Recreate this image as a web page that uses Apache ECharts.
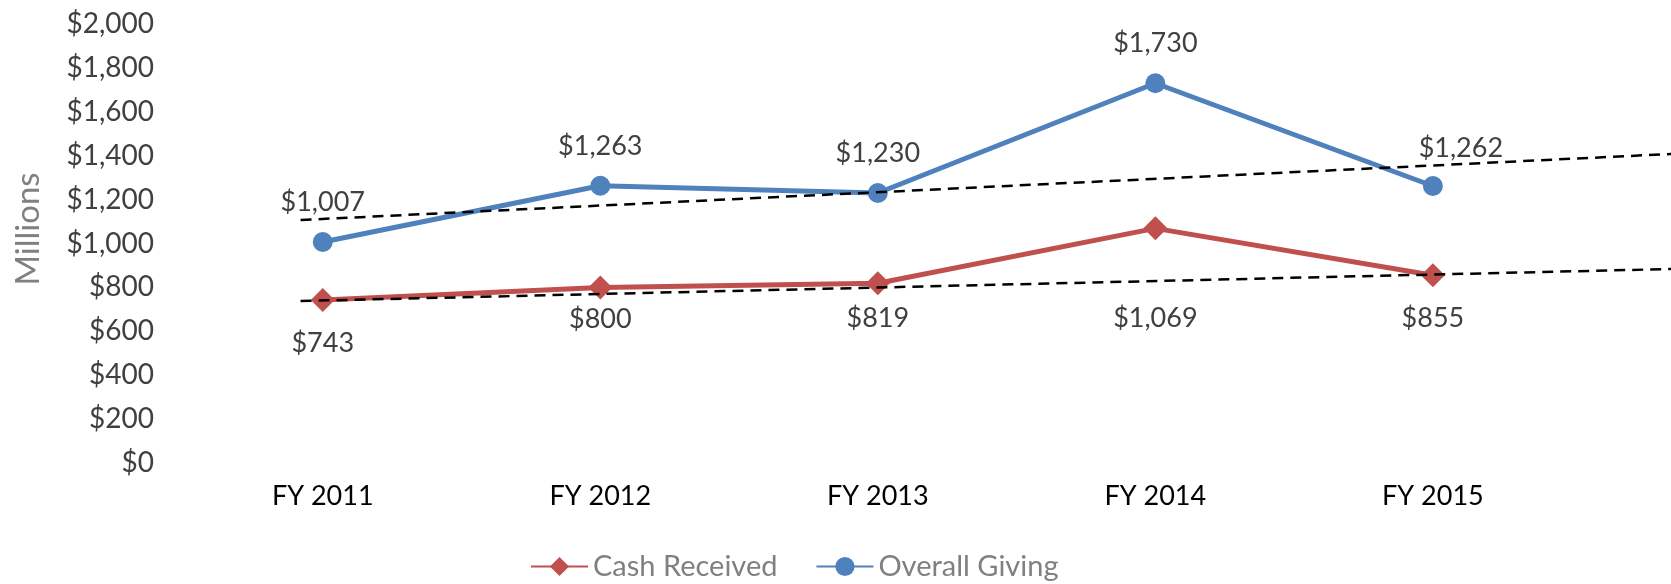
<!DOCTYPE html>
<html>
<head>
<meta charset="utf-8">
<script src="https://cdn.jsdelivr.net/npm/echarts@6/dist/echarts.min.js"></script>
<style>
  html, body { margin: 0; padding: 0; background: #fff; }
  #chart { width: 1671px; height: 584px; }
</style>
</head>
<body>
<div id="chart"></div>
<script>
// data
var categories = ['FY 2011', 'FY 2012', 'FY 2013', 'FY 2014', 'FY 2015']
var cashReceived = [743, 800, 819, 1069, 855]
var overallGiving = [1007, 1263, 1230, 1730, 1262]
// trendline ends, [category position, value], as drawn
var cashTrend = [[-0.08, 738], [4.86, 884]]
var overallTrend = [[-0.08, 1107], [4.86, 1408]]
var yTicks = [0, 200, 400, 600, 800, 1000, 1200, 1400, 1600, 1800, 2000]

// label nudges (moved by hand in the original)
var cashLabelOffset = [[0, 43], [0, 32], [0, 35], [0, 90], [0, 43]]
var overallLabelOffset = [[0, -40], [0, -39], [0, -40], [0, -40], [28, -38]]

var FONT = 'Lato, "Noto Sans", sans-serif'

function money (v) {
  return '$' + Number(v).toLocaleString('en-US')
}

// points sit at category index i; the plot is cropped on the right like the original
function toPoints (values, offsets) {
  return values.map(function (v, i) {
    return { value: [i, v], label: { offset: offsets[i] } }
  })
}

var myChart = echarts.init(document.getElementById('chart'))

var option = {
  animation: false,
  grid: { left: 184, right: 0, top: 24, bottom: 121 },
  legend: {
    data: ['Cash Received', 'Overall Giving'],
    left: 525,
    top: 547,
    itemWidth: 57,
    itemHeight: 24,
    itemGap: 38,
    textStyle: { color: '#808080', fontSize: 29, fontFamily: FONT }
  },
  graphic: [{
    type: 'text',
    x: 28,
    y: 229,
    rotation: Math.PI / 2,
    style: {
      text: 'Millions',
      fill: '#808080',
      fontSize: 33,
      fontFamily: FONT,
      align: 'center',
      verticalAlign: 'middle'
    }
  }],
  xAxis: {
    type: 'value',
    min: -0.5,
    max: 4.858,   // category width 277.5px, picture ends mid-forecast
    axisLine: { show: false },
    axisTick: { show: false },
    splitLine: { show: false },
    axisLabel: {
      customValues: categories.map(function (c, i) { return i }),
      color: '#000', fontSize: 27, fontFamily: FONT, margin: 20,
      formatter: function (v) { return categories[Math.round(v)] || '' }
    }
  },
  yAxis: {
    type: 'value',
    min: 0,
    max: yTicks[yTicks.length - 1],
    interval: 200,
    axisLine: { show: false },
    axisTick: { show: false },
    splitLine: { show: false },
    axisLabel: {
      color: '#404040', fontSize: 28, fontFamily: FONT, margin: 30,
      formatter: money
    }
  },
  series: [{
    name: 'Cash Received',
    type: 'line',
    data: toPoints(cashReceived, cashLabelOffset),
    symbol: 'diamond',
    symbolSize: 24,
    lineStyle: { color: '#C0504D', width: 5 },
    itemStyle: { color: '#C0504D' },
    label: {
      show: true, position: 'inside', color: '#404040',
      fontSize: 27, fontFamily: FONT,
      formatter: function (p) { return money(p.value[1]) }
    },
    z: 3
  }, {
    name: 'Overall Giving',
    type: 'line',
    data: toPoints(overallGiving, overallLabelOffset),
    symbol: 'circle',
    symbolSize: 20,
    lineStyle: { color: '#4F81BD', width: 5 },
    itemStyle: { color: '#4F81BD' },
    label: {
      show: true, position: 'inside', color: '#404040',
      fontSize: 27, fontFamily: FONT,
      formatter: function (p) { return money(p.value[1]) }
    },
    z: 3
  }, {
    name: 'Cash trend',
    type: 'line',
    data: cashTrend,
    symbol: 'none',
    silent: true,
    lineStyle: { color: '#000', width: 2.5, type: [11, 7] },
    z: 4
  }, {
    name: 'Overall trend',
    type: 'line',
    data: overallTrend,
    symbol: 'none',
    silent: true,
    lineStyle: { color: '#000', width: 2.5, type: [11, 7] },
    z: 4
  }]
}

myChart.setOption(option)
</script>
</body>
</html>
